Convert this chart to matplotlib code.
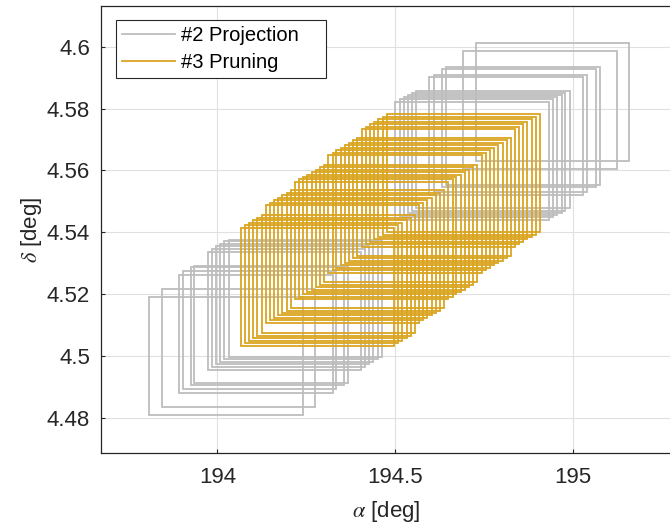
import matplotlib
matplotlib.use("Agg")
import matplotlib.pyplot as plt
from matplotlib.patches import Rectangle
from matplotlib.lines import Line2D
from matplotlib.ticker import FuncFormatter

# lower-left corners (RA, Dec in deg) of each field of view
proj_ra = [193.808, 193.843, 193.892, 193.902, 193.925, 193.935, 193.973, 193.984,
           193.996, 194.007, 194.019, 194.032,
           194.501, 194.513, 194.525, 194.537, 194.548, 194.560, 194.597, 194.609,
           194.633, 194.644, 194.692, 194.728]
proj_dec = [4.4811, 4.4836, 4.4883, 4.4894, 4.4907, 4.4913, 4.4956, 4.4967,
            4.4975, 4.4983, 4.4991, 4.4997,
            4.5441, 4.5450, 4.5457, 4.5463, 4.5470, 4.5478, 4.5521, 4.5529,
            4.5547, 4.5554, 4.5605, 4.5631]

prune_ra = [194.065, 194.077, 194.089, 194.101, 194.112, 194.124,
            194.136, 194.148, 194.159, 194.171, 194.183, 194.195, 194.206,
            194.218, 194.230, 194.241, 194.253, 194.265, 194.277, 194.288, 194.300,
            194.312, 194.324, 194.335, 194.347, 194.359, 194.371, 194.382, 194.394,
            194.406, 194.418, 194.429, 194.441, 194.453, 194.465, 194.476]
prune_dec = [4.5035, 4.5043, 4.5051, 4.5059, 4.5067, 4.5075,
             4.5108, 4.5116, 4.5124, 4.5132, 4.5140, 4.5148, 4.5156,
             4.5184, 4.5192, 4.5200, 4.5207, 4.5215, 4.5223, 4.5231, 4.5239,
             4.5270, 4.5278, 4.5286, 4.5294, 4.5302, 4.5309, 4.5317, 4.5325,
             4.5354, 4.5362, 4.5370, 4.5378, 4.5386, 4.5393, 4.5401]

# field of view size
fov_w = 0.432
fov_h = 0.038

labels = ["#2 Projection", "#3 Pruning"]
gray = "#bdbdbd"
gold = "#daa520"
dark = "#262626"

plt.rcParams["font.family"] = ["Liberation Sans", "DejaVu Sans"]
plt.rcParams["mathtext.fontset"] = "stix"

fig = plt.figure(figsize=(6.7, 5.27), dpi=100)
ax = fig.add_axes([101 / 670, 74 / 527, 571 / 670, 447 / 527])

for ra, dec in zip(proj_ra, proj_dec):
    ax.add_patch(Rectangle((ra, dec), fov_w, fov_h, fill=False,
                           edgecolor=gray, lw=1.3, zorder=2))
for ra, dec in zip(prune_ra, prune_dec):
    ax.add_patch(Rectangle((ra, dec), fov_w, fov_h, fill=False,
                           edgecolor=gold, lw=1.3, zorder=3))

ax.set_xlim(193.672, 195.28)
ax.set_ylim(4.4688, 4.6131)
ax.set_xticks([194, 194.5, 195])
ax.set_yticks([4.48, 4.5, 4.52, 4.54, 4.56, 4.58, 4.6])
fmt = FuncFormatter(lambda v, p: f"{v:g}")
ax.xaxis.set_major_formatter(fmt)
ax.yaxis.set_major_formatter(fmt)

ax.grid(True, color="#e0e0e0", lw=0.8, zorder=0)
ax.set_axisbelow(True)
ax.tick_params(direction="in", length=3, width=0.8, color=dark,
               labelsize=16, labelcolor=dark, pad=8)
ax.tick_params(axis="x", pad=10)
for s in ax.spines.values():
    s.set_color(dark)
    s.set_linewidth(0.9)

ax.set_xlabel(r"$\alpha$ [deg]", fontsize=16, color=dark, labelpad=8)
ax.set_ylabel(r"$\delta$ [deg]", fontsize=16, color=dark, labelpad=2)

handles = [Line2D([], [], color=gray, lw=1.3), Line2D([], [], color=gold, lw=1.3)]
leg = ax.legend(handles, labels, loc="upper left", mode="expand",
                bbox_to_anchor=(0.0263, 0.0, 0.3678, 0.9687),
                fontsize=14.5, frameon=True,
                fancybox=False, edgecolor=dark, framealpha=1,
                handlelength=2.6, handletextpad=0.3, labelspacing=0.36,
                borderpad=0.32, borderaxespad=0.0)
leg.get_frame().set_linewidth(0.8)
for t in leg.get_texts():
    t.set_color("black")

fig.savefig("out.png", dpi=100)
